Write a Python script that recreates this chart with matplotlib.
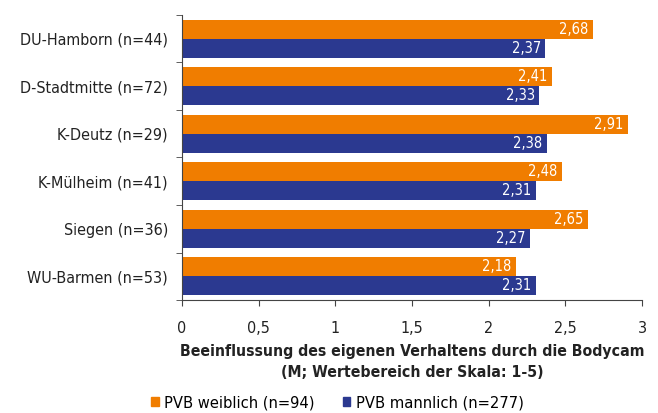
import matplotlib
matplotlib.use("Agg")
import matplotlib.pyplot as plt
import numpy as np
from matplotlib.patches import Patch

categories = ["DU-Hamborn (n=44)", "D-Stadtmitte (n=72)", "K-Deutz (n=29)",
              "K-Mülheim (n=41)", "Siegen (n=36)", "WU-Barmen (n=53)"]
weiblich = [2.68, 2.41, 2.91, 2.48, 2.65, 2.18]
maennlich = [2.37, 2.33, 2.38, 2.31, 2.27, 2.31]
series_names = ["PVB weiblich (n=94)", "PVB mannlich (n=277)"]
xticks = [0, 0.5, 1, 1.5, 2, 2.5, 3]
xticklabels = ["0", "0,5", "1", "1,5", "2", "2,5", "3"]

orange = "#F07D00"
navy = "#2B3990"

plt.rcParams['font.family'] = ["DejaVu Sans"]
plt.rcParams['font.stretch'] = "condensed"

fig = plt.figure(figsize=(6.58, 4.13), dpi=100)
ax = fig.add_axes([0.2766, 0.2736, 0.6991, 0.6901])

n = len(categories)
y = np.arange(n)
h = 0.4
b1 = ax.barh(y - h/2, weiblich, height=h, color=orange)
b2 = ax.barh(y + h/2, maennlich, height=h, color=navy)

for bars, vals in ((b1, weiblich), (b2, maennlich)):
    for r, v in zip(bars, vals):
        ax.text(v - 0.03, r.get_y() + r.get_height()/2, f"{v:.2f}".replace(".", ","),
                ha="right", va="center", color="white", fontsize=10.5)

ax.set_ylim(n - 0.5, -0.5)
ax.set_xlim(0, 3)
ax.set_yticks(y)
ax.set_yticklabels(categories, fontsize=11.5, color="#222222")
ax.set_yticks(np.arange(n + 1) - 0.5, minor=True)
ax.tick_params(axis="y", which="major", length=0, pad=10)
ax.tick_params(axis="y", which="minor", length=4, direction="out", color="#444444")
ax.set_xticks(xticks)
ax.set_xticklabels(xticklabels, fontsize=11.5, color="#222222")
ax.tick_params(axis="x", length=4, direction="out", color="#444444", pad=11)

for s in ("top", "right"):
    ax.spines[s].set_visible(False)
for s in ("left", "bottom"):
    ax.spines[s].set_color("#444444")

ax.set_xlabel("Beeinflussung des eigenen Verhaltens durch die Bodycam\n(M; Wertebereich der Skala: 1-5)",
              fontsize=11.3, fontweight="bold", color="#222222", labelpad=6, linespacing=1.45)

handles = [Patch(color=orange), Patch(color=navy)]
fig.legend(handles, series_names, loc="center", bbox_to_anchor=(0.513, 0.025), ncol=2,
           frameon=False, fontsize=11.8, handlelength=0.45, handleheight=0.45,
           handletextpad=0.35, columnspacing=1.7, borderpad=0)

fig.savefig("out.png", dpi=100)
